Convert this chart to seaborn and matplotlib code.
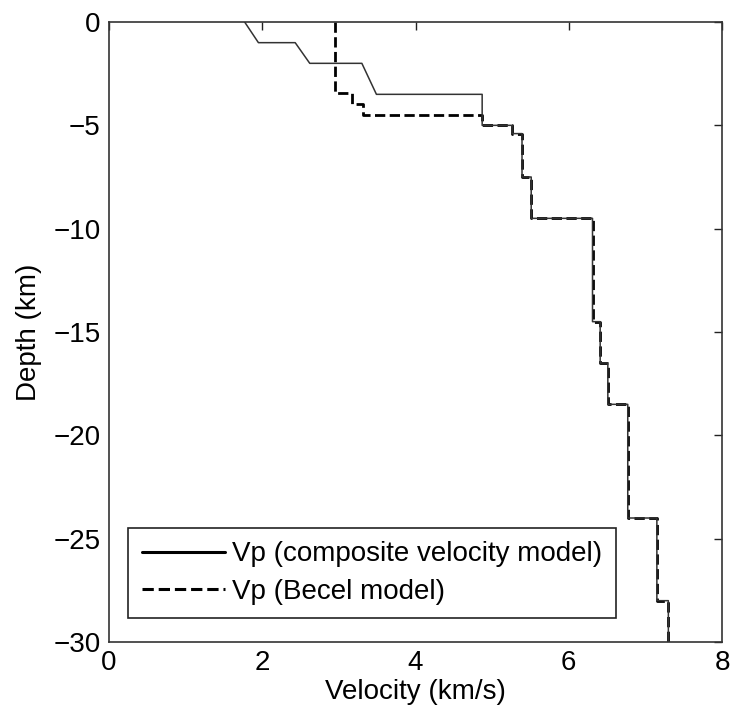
import matplotlib
matplotlib.use("Agg")
import matplotlib.pyplot as plt
import seaborn as sns
import pandas as pd

# composite velocity model (km/s vs depth in km)
comp_vel = [1.77, 1.95, 2.43, 2.62, 3.30, 3.49, 4.87, 4.87, 5.26, 5.26, 5.39, 5.39,
            5.51, 5.51, 6.31, 6.31, 6.41, 6.41, 6.51, 6.51, 6.77, 6.77, 7.15, 7.15,
            7.30, 7.30]
comp_depth = [0, -1, -1, -2, -2, -3.5, -3.5, -5, -5, -5.4, -5.4, -7.5, -7.5, -9.5,
              -9.5, -14.5, -14.5, -16.5, -16.5, -18.5, -18.5, -24, -24, -28, -28, -30]

# Becel model
becel_vel = [2.95, 2.95, 3.17, 3.17, 3.31, 3.31, 4.87, 4.87, 5.26, 5.26, 5.39, 5.39,
             5.51, 5.51, 6.31, 6.31, 6.41, 6.41, 6.51, 6.51, 6.77, 6.77, 7.15, 7.15,
             7.30, 7.30]
becel_depth = [0, -3.45, -3.45, -3.95, -3.95, -4.5, -4.5, -5, -5, -5.4, -5.4, -7.5,
               -7.5, -9.5, -9.5, -14.5, -14.5, -16.5, -16.5, -18.5, -18.5, -24, -24,
               -28, -28, -30]

comp_df = pd.DataFrame({"vel": comp_vel, "depth": comp_depth})
becel_df = pd.DataFrame({"vel": becel_vel, "depth": becel_depth})

sns.set_style("white")
plt.rcParams["font.family"] = ["Liberation Sans", "DejaVu Sans"]
plt.rcParams["text.color"] = "black"
plt.rcParams["axes.labelcolor"] = "black"
fs = 20

fig = plt.figure(figsize=(7.3, 7.15), dpi=100)
ax = fig.add_axes([109 / 730, 73 / 715, 613 / 730, 620 / 715])

sns.lineplot(data=becel_df, x="vel", y="depth", sort=False, estimator=None, ax=ax,
             color="black", linewidth=2.0, dashes=(6, 4.5), linestyle="--",
             label="Vp (Becel model)")
sns.lineplot(data=comp_df, x="vel", y="depth", sort=False, estimator=None, ax=ax,
             color="#333333", linewidth=1.1,
             label="Vp (composite velocity model)")

ax.set_xlim(0, 8)
ax.set_ylim(-30, 0)
ax.set_xticks([0, 2, 4, 6, 8])
ax.set_yticks([0, -5, -10, -15, -20, -25, -30])
ax.set_yticklabels(["0", "\u22125", "\u221210", "\u221215", "\u221220", "\u221225", "\u221230"])
ax.tick_params(direction="in", top=True, right=True, length=6, width=1,
               labelsize=fs, colors="#222222", labelcolor="black", pad=6)
for sp in ax.spines.values():
    sp.set_color("#333333")
    sp.set_linewidth(1.2)

ax.set_xlabel("Velocity (km/s)", fontsize=fs, labelpad=2)
ax.set_ylabel("Depth (km)", fontsize=fs, labelpad=8)

# legend: composite first, boxed, lower left
handles, labels = ax.get_legend_handles_labels()
leg = ax.legend(handles[::-1], labels[::-1], loc="lower left",
                bbox_to_anchor=(0.031, 0.038), borderaxespad=0,
                fancybox=False, framealpha=1, edgecolor="#222222",
                fontsize=fs, handlelength=3.0, handletextpad=0.25,
                borderpad=0.5, labelspacing=0.4)
leg.get_frame().set_linewidth(1.2)
for line in leg.get_lines():
    line.set_color("black")
    line.set_linewidth(2.2)

fig.savefig("out.png", dpi=100)
